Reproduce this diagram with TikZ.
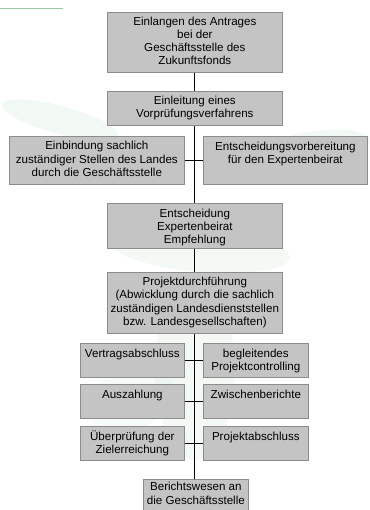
\documentclass[tikz,border=0pt]{standalone}
\usepackage{fontspec}
\setmainfont{Liberation Sans}
\definecolor{boxfill}{HTML}{C4C4C4}
\definecolor{boxline}{HTML}{8C8C8C}
\definecolor{leaf}{HTML}{D3E8DB}
\definecolor{rule}{HTML}{9CC6AA}
\newcommand{\ctext}[3]{\parbox[c][#2pt][c]{#1pt}{\centering\fontsize{11.6}{13.3}\selectfont\strut #3\strut}}
\newcommand{\ttext}[3]{\parbox[c][#2pt][t]{#1pt}{\centering\fontsize{11.6}{13.3}\selectfont\vspace*{4.5pt}\strut #3\strut}}

\begin{document}
\begin{tikzpicture}[x=1pt,y=-1pt,
  box/.style={draw=boxline,fill=boxfill,inner sep=0pt,anchor=north west,line width=0.7pt},
  trunk/.style={line width=0.9pt}]

\useasboundingbox (0,0) rectangle (369,510);

%%% faint background %%%
\fill[leaf,opacity=0.3] (60,120) ellipse [x radius=60,y radius=14,rotate=-15];
\fill[leaf,opacity=0.3] (310,150) ellipse [x radius=60,y radius=18,rotate=10];
\fill[leaf,opacity=0.25] (200,250) ellipse [x radius=90,y radius=22,rotate=-5];
\fill[leaf,opacity=0.25] (195,370) ellipse [x radius=40,y radius=90];
\fill[leaf,opacity=0.2] (130,400) ellipse [x radius=45,y radius=30,rotate=20];
\draw[rule,line width=1pt] (0,9) -- (63,9);

%%% main column %%%
  \node (Ein) at (107,12) [box] {\ctext{175}{60}{Einlangen des Antrages\\bei der\\Geschäftsstelle des\\Zukunftsfonds}};
  \node (Vor) at (107,91) [box] {\ctext{175}{34}{Einleitung eines\\Vorprüfungsverfahrens}};
  \node (Bin) at (9,136) [box] {\ctext{175}{48}{Einbindung sachlich\\zuständiger Stellen des Landes\\durch die Geschäftsstelle}};
  \node (Evb) at (203,136) [box] {\ttext{164}{48}{Entscheidungsvorbereitung\\für den Expertenbeirat}};
  \node (Ent) at (107,203) [box] {\ttext{175}{45}{Entscheidung\\Expertenbeirat\\Empfehlung}};
  \node (Pro) at (107,272) [box] {\ctext{175}{61}{Projektdurchführung\\(Abwicklung durch die sachlich\\zuständigen Landesdienststellen\\bzw. Landesgesellschaften)}};

%%% project steps %%%
  \node (Ver) at (80,343) [box] {\ttext{104}{34}{Vertragsabschluss}};
  \node (Beg) at (203,343) [box] {\ttext{105}{34}{begleitendes\\Projektcontrolling}};
  \node (Aus) at (80,384) [box] {\ttext{104}{34}{Auszahlung}};
  \node (Zwi) at (203,384) [box] {\ttext{105}{34}{Zwischenberichte}};
  \node (Ueb) at (80,426) [box] {\ttext{104}{34}{Überprüfung der\\Zielerreichung}};
  \node (Pab) at (203,426) [box] {\ttext{105}{34}{Projektabschluss}};
  \node (Ber) at (143,479) [box] {\ctext{105}{31}{Berichtswesen an\\die Geschäftsstelle}};

\draw[trunk]
   (Ein.south) -- (Vor.north)
   (Vor.south) -- (Ent.north)
   (Ent.south) -- (Pro.north)
   (Pro.south) -- (Pro.south |- Ber.north);

\draw[trunk]
   (Bin.east) -- (Evb.west)
   (Ver.east) -- (Beg.west)
   (Aus.east) -- (Zwi.west)
   (Ueb.east) -- (Pab.west);
\end{tikzpicture}
\end{document}
